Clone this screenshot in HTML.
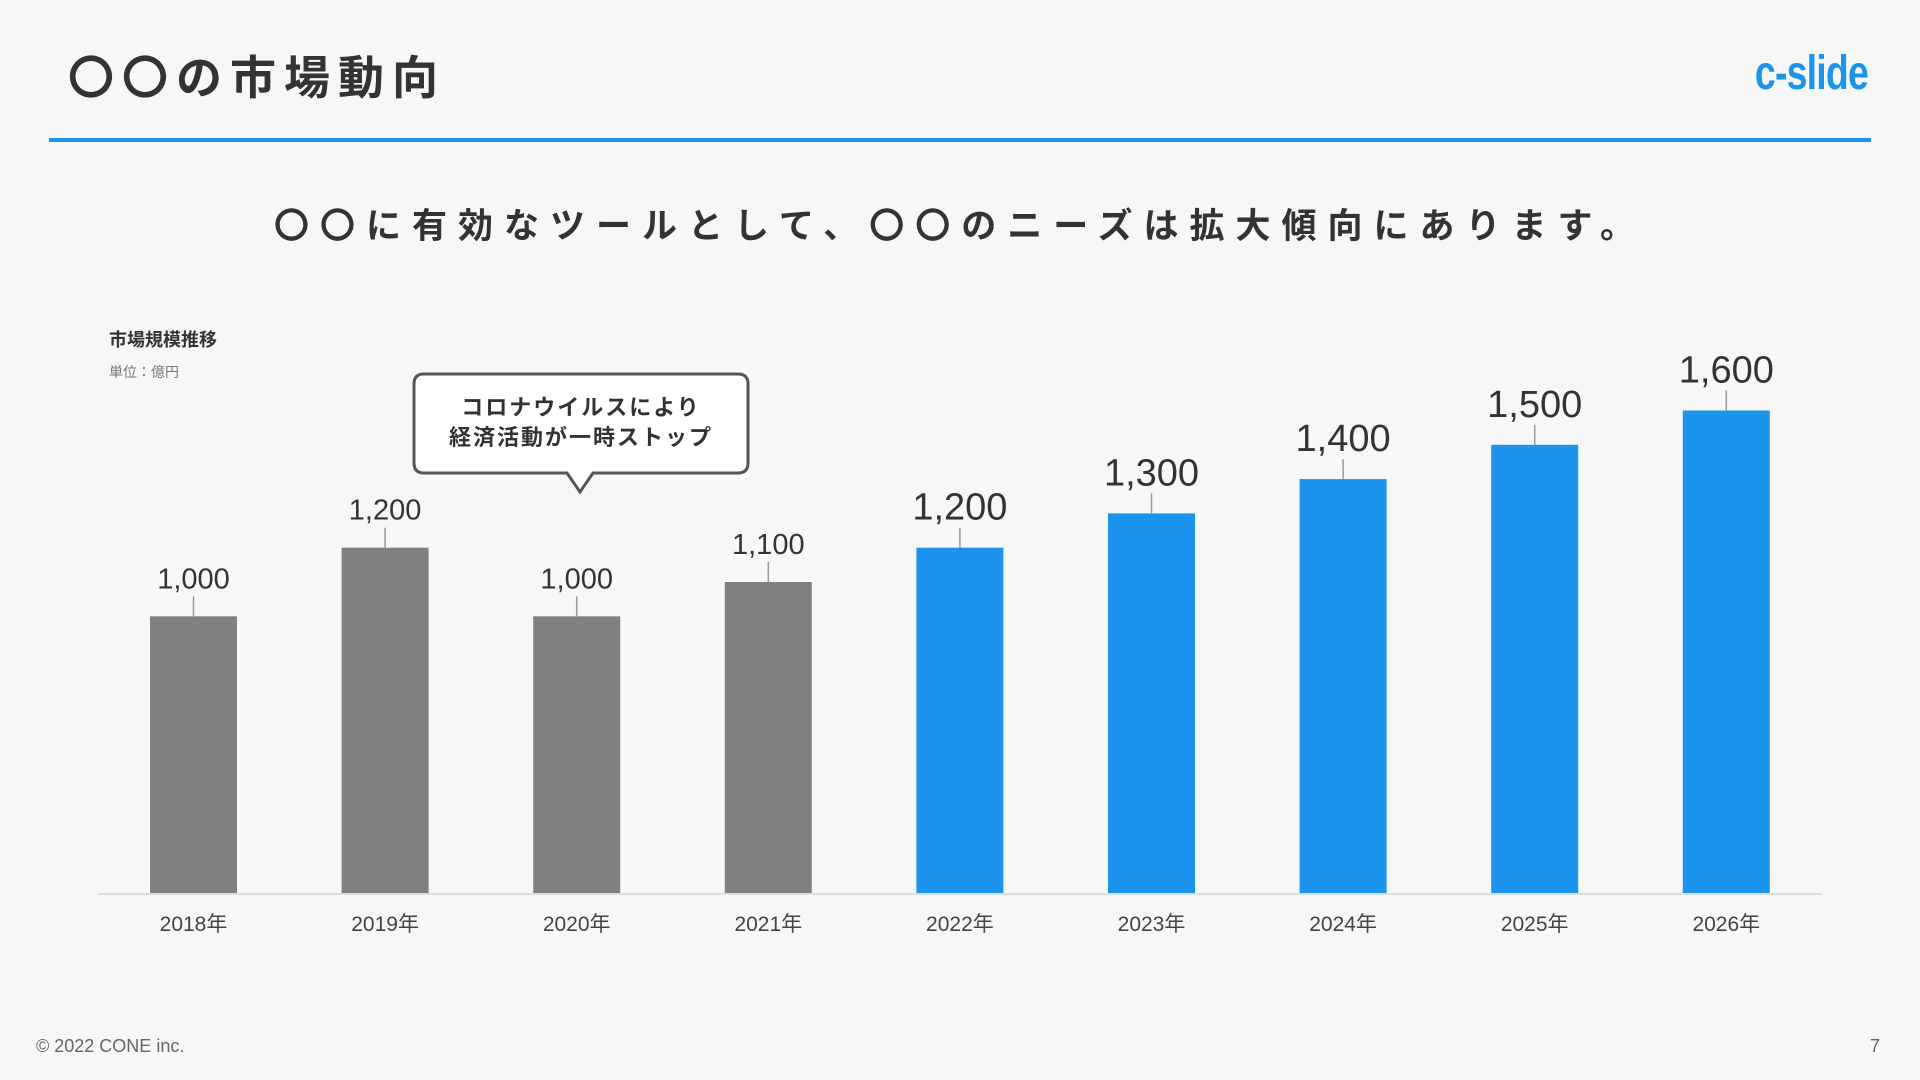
<!DOCTYPE html>
<html><head><meta charset="utf-8"><style>
body{margin:0;width:1920px;height:1080px;background:#f7f7f7;font-family:"Liberation Sans","Noto Sans CJK JP",sans-serif;position:relative;overflow:hidden;color:#333}
.abs{position:absolute}
</style></head><body>
<div class="abs" style="left:68px;top:42px;font-size:46px;font-weight:bold;letter-spacing:8px;color:#333">〇〇の市場動向</div>
<div class="abs" style="right:52px;top:46px;font-size:48px;font-weight:bold;color:#1a94ec;letter-spacing:-1px;transform:scaleX(0.78);transform-origin:right">c-slide</div>
<div class="abs" style="left:49px;top:138px;width:1822px;height:4px;background:#1a94ec"></div>
<div class="abs" style="left:0;width:1920px;top:198px;text-align:center;font-size:35px;font-weight:bold;letter-spacing:11px;color:#333">〇〇に有効なツールとして、〇〇のニーズは拡大傾向にあります。</div>
<div class="abs" style="left:109px;top:326px;font-size:18px;font-weight:bold;color:#333">市場規模推移</div>
<div class="abs" style="left:109px;top:362px;font-size:14px;color:#777">単位：億円</div>
<svg class="abs" style="left:0;top:0" width="1920" height="1080" id="chart"></svg>
<div class="abs" style="left:36px;top:1036px;font-size:18px;color:#666">© 2022 CONE inc.</div>
<div class="abs" style="left:1870px;top:1036px;font-size:18px;color:#666">7</div>
<script>
const categories=["2018年","2019年","2020年","2021年","2022年","2023年","2024年","2025年","2026年"];
const values=[1000,1200,1000,1100,1200,1300,1400,1500,1600];
const valueLabels=["1,000","1,200","1,000","1,100","1,200","1,300","1,400","1,500","1,600"];
const forecast=[false,false,false,false,true,true,true,true,true];
const svg=document.getElementById('chart');
const NS='http://www.w3.org/2000/svg';
const baseY=893,x0=193.5,step=191.6,bw=87;
function xPos(i){return x0+i*step;}
function yPos(v){return baseY-(0.343*v-66.3);}
function mk(t,a){const e=document.createElementNS(NS,t);for(const k in a)e.setAttribute(k,a[k]);svg.appendChild(e);return e;}
const ax=mk('line',{x1:98,x2:1822,y1:baseY+1,y2:baseY+1,stroke:'#dddddd','stroke-width':2});


categories.forEach((c,i)=>{
  const cx=xPos(i),top=yPos(values[i]);
  const r=mk('rect',{x:cx-bw/2,y:top,width:bw,height:baseY-top,fill:forecast[i]?'#1a94ec':'#808080'});
  
  
  const l=mk('line',{x1:cx,x2:cx,y1:top,y2:top-20,stroke:'#999','stroke-width':1.5});
  
  
  const fs=forecast[i]?38:29;
  const t=mk('text',{x:cx,y:top-28,'text-anchor':'middle','font-size':fs,fill:'#333'});
  t.textContent=valueLabels[i];
  
  
  const xl=mk('text',{x:cx,y:931,'text-anchor':'middle','font-size':21,fill:'#444'});
  xl.textContent=c;
  
  
});
const g=mk('path',{d:'M424,374 H738 Q748,374 748,384 V463 Q748,473 738,473 H593 L580,492 L567,473 H424 Q414,473 414,463 V384 Q414,374 424,374 Z',fill:'#fff',stroke:'#555','stroke-width':3});


[['コロナウイルスにより',415],['経済活動が一時ストップ',445]].forEach(([s,y])=>{
  const t=mk('text',{x:581,y:y,'text-anchor':'middle','font-size':22,'font-weight':'bold',fill:'#333','letter-spacing':2});
  t.textContent=s;
  
  
});
</script>
</body></html>
